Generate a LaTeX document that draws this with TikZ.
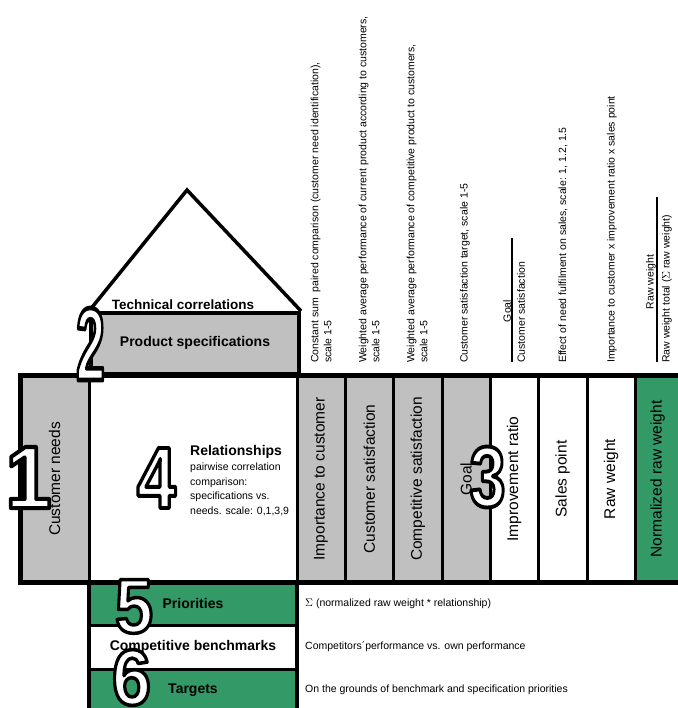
\documentclass[tikz,border=0pt]{standalone}
\usepackage{fontspec}
\setmainfont{Liberation Sans}
\usepackage{graphicx}

\definecolor{qfdgray}{RGB}{192,192,192}
\definecolor{qfdgreen}{RGB}{51,153,102}

% big outlined step numbers (white fill, black stroke): width, height, digit
\newcommand{\bignum}[3]{\resizebox{#1}{#2}{\bfseries
  \special{pdf:literal direct 2 Tr 0.45 w 1 j 0 G 1 g}#3\special{pdf:literal direct 0 Tr 0 g}}}

\tikzset{
  cell/.style={draw, line width=3pt, minimum height=207pt, inner sep=0pt, outer sep=0pt},
  gcol/.style={cell, fill=qfdgray, minimum width=48pt},
  wcol/.style={cell, fill=white, minimum width=48pt},
  frame/.style={draw, line width=5pt},
  head/.style={font=\bfseries\fontsize{14}{16}\selectfont, inner sep=0pt},
  note/.style={rotate=90, anchor=west, align=left, inner sep=0pt,
               font=\fontsize{10.5}{13}\selectfont},
  rownote/.style={anchor=west, inner sep=0pt, font=\fontsize{10.5}{13}\selectfont},
  row/.style={draw, line width=3pt, minimum width=208pt, inner sep=0pt, outer sep=0pt,
              font=\bfseries\fontsize{14}{16}\selectfont},
  fracbar/.style={line width=1.4pt},
  digit/.style={inner sep=0pt},
}

\newcommand{\vlabel}[1]{\rotatebox{90}{\fontsize{15.5}{18}\selectfont #1}}

\begin{document}
\begin{tikzpicture}[x=1pt, y=-1pt]
\useasboundingbox (0,0) rectangle (677,708);
\fill[white] (0,0) rectangle (677,708);

% ---- main matrix: needs, relationships and the planning columns
\node[cell, fill=qfdgray, minimum width=69pt] (needs) at (54.5,479) {\vlabel{Customer needs}};
\node[cell, fill=white, minimum width=208pt] (rel) at (193,479) {};

\node[gcol] (imp)   at (321,479)    {\vlabel{Importance to customer}};
\node[gcol, minimum width=48.5pt] (csat) at (369.25,479) {\vlabel{Customer satisfaction}};
\node[gcol, minimum width=48.5pt] (comp) at (417.75,479) {\vlabel{Competitive satisfaction}};
\node[gcol]  (goal)  at (466,479)   {\vlabel{Goal}};
\node[wcol]  (impr)  at (514,479)   {\vlabel{Improvement ratio}};
\node[wcol, minimum width=49pt] (sales) at (562.5,479) {\vlabel{Sales point}};
\node[wcol]  (raw)   at (611,479)   {\vlabel{Raw weight}};
\node[cell, fill=qfdgreen, minimum width=45pt] (norm) at (657.5,479) {\vlabel{Normalized raw weight}};

\draw[frame] (needs.north west) rectangle (norm.south east);

% relationship matrix text
\node[head, anchor=base west] (reltitle) at (190,455) {Relationships};
\node[anchor=north west, align=left, inner sep=0pt, font=\fontsize{10.5}{14.5}\selectfont]
  (reltext) at (190,463)
  {pairwise correlation\\comparison:\\specifications vs.\\needs. scale: 0,1,3,9};

% ---- roof: product specifications and technical correlations
\node[draw, line width=4pt, fill=qfdgray, minimum width=208pt, minimum height=60.5pt,
      inner sep=0pt, anchor=south west, head] (specs) at (89,375.5) {Product specifications};
\coordinate (apex) at (187,190);
\draw[line width=3.5pt, line join=miter] (specs.north west) -- (apex) -- (specs.north east);
\node[head, font=\bfseries\fontsize{13.5}{16}\selectfont] (techcorr) at (183,305) {Technical correlations};

% ---- column explanations above the planning matrix
\node[note] (n1) at (321,363) {Constant sum\ \ paired comparison (customer need identification),\\scale 1-5};
\node[note] (n2) at (369,363) {Weighted average performance of current product according to customers,\\scale 1-5};
\node[note] (n3) at (417,363) {Weighted average performance of competitive product to customers,\\scale 1-5};
\node[note] (n4) at (465,363) {Customer satisfaction target, scale 1-5};

\node[note, anchor=center] (n5top) at (507,311) {Goal};
\draw[fracbar] (512,238) -- (512,362);
\node[note] (n5bot) at (521,363) {Customer satisfaction};

\node[note] (n6) at (563,363) {Effect of need fulfilment on sales, scale: 1, 1.2, 1.5};
\node[note] (n7) at (612,363) {Importance to customer x improvement ratio x sales point};

\node[note, anchor=center] (n8top) at (651,282) {Raw weight};
\draw[fracbar] (657,197) -- (657,362);
\node[note] (n8bot) at (667,363) {Raw weight total (\(\Sigma\) raw weight)};

% ---- bottom rows: priorities, benchmarks, targets
\node[row, fill=qfdgreen, minimum height=42.5pt] (prio) at (193,603.75) {Priorities};
\node[row, fill=white, minimum height=44pt]     (bench) at (193,647)   {Competitive benchmarks};
\node[row, fill=qfdgreen, minimum height=42pt]  (targ) at (193,690)    {Targets};
\draw[line width=4.5pt] (prio.north west) -- (targ.south west);
\draw[line width=4.5pt] (prio.north east) -- (targ.south east);
\draw[frame] (needs.south west) -- (norm.south east);

\node[rownote] (prionote)  at ([xshift=8pt]prio.east)  {\(\Sigma\) (normalized raw weight * relationship)};
\node[rownote] (benchnote) at ([xshift=8pt]bench.east) {Competitors´performance vs. own performance};
\node[rownote] (targnote)  at ([xshift=8pt]targ.east)  {On the grounds of benchmark and specification priorities};

% ---- step numbers
\node[digit] (d1) at (28.5,477.5) {\bignum{46pt}{61pt}{1}};
\node[digit] (d2) at (90.5,344)   {\bignum{29pt}{72pt}{2}};
\node[digit] (d3) at (487.5,477)  {\bignum{36pt}{60pt}{3}};
\node[digit] (d4) at (156.5,478)  {\bignum{39pt}{60pt}{4}};
\node[digit] (d5) at (134,606.5)  {\bignum{38pt}{53pt}{5}};
\node[digit] (d6) at (131.5,677.5){\bignum{39pt}{55pt}{6}};
\end{tikzpicture}
\end{document}
